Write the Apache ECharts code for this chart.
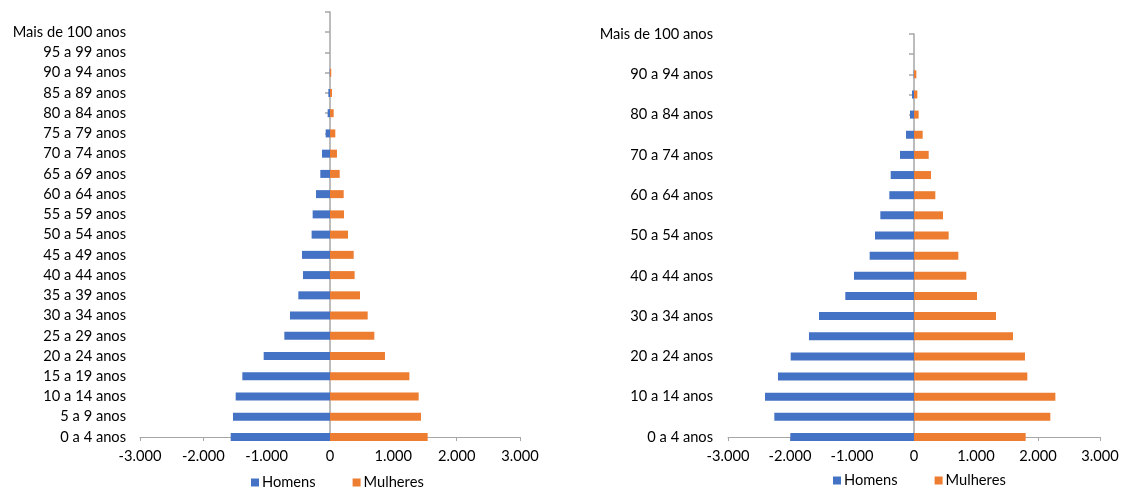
<!DOCTYPE html>
<html>
<head>
<meta charset="utf-8">
<script src="https://cdn.jsdelivr.net/npm/echarts@6/dist/echarts.min.js"></script>
<style>
  html, body { margin: 0; padding: 0; background: #fff; }
  #chart { width: 1121px; height: 491px; }
</style>
</head>
<body>
<div id="chart"></div>
<script>
// Faixas etárias (de baixo para cima)
const faixas = [
  '0 a 4 anos', '5 a 9 anos', '10 a 14 anos', '15 a 19 anos', '20 a 24 anos',
  '25 a 29 anos', '30 a 34 anos', '35 a 39 anos', '40 a 44 anos', '45 a 49 anos',
  '50 a 54 anos', '55 a 59 anos', '60 a 64 anos', '65 a 69 anos', '70 a 74 anos',
  '75 a 79 anos', '80 a 84 anos', '85 a 89 anos', '90 a 94 anos', '95 a 99 anos',
  'Mais de 100 anos'
];

// Pirâmide 1
const homens1 = [-1568, -1532, -1489, -1384, -1047, -721, -632, -500, -426, -442,
                 -290, -274, -221, -153, -126, -68, -37, -26, -4, 0, 0];
const mulheres1 = [1542, 1437, 1400, 1253, 868, 700, 595, 474, 389, 374,
                   284, 221, 216, 153, 110, 84, 58, 32, 20, 0, 0];

// Pirâmide 2
const homens2 = [-1995, -2253, -2403, -2194, -1989, -1694, -1532, -1108, -968, -715,
                 -629, -543, -398, -376, -226, -129, -65, -32, -5, 0, 0];
const mulheres2 = [1801, 2199, 2280, 1828, 1790, 1597, 1323, 1016, 844, 715,
                   559, 468, 344, 274, 237, 140, 75, 54, 38, 0, 0];

const valorTicks = [-3000, -2000, -1000, 0, 1000, 2000, 3000];

const corHomens = '#4472C4';
const corMulheres = '#ED7D31';
const corEixo = '#A6A6A6';
const fonte = 'Lato, "Open Sans", sans-serif';
const tamFonte = 14.67;

function fmtMilhar(v) {
  const s = Math.abs(v).toString().replace(/\B(?=(\d{3})+(?!\d))/g, '.');
  return (v < 0 ? '-' : '') + s;
}

function eixoValor(gridIndex) {
  return {
    type: 'value',
    gridIndex: gridIndex,
    min: valorTicks[0],
    max: valorTicks[valorTicks.length - 1],
    interval: 1000,
    splitLine: { show: false },
    axisLine: { show: true, onZero: false, lineStyle: { color: corEixo, width: 1 } },
    axisTick: { show: true, length: 4, lineStyle: { color: corEixo } },
    axisLabel: {
      color: '#000', fontFamily: fonte, fontSize: tamFonte, margin: 12,
      formatter: fmtMilhar
    }
  };
}

// Eixo só com os rótulos das faixas, junto à borda esquerda da grade
function eixoRotulos(gridIndex, labelInterval, margin, max) {
  const ax = {
    type: 'category',
    gridIndex: gridIndex,
    position: 'left',
    data: faixas,
    boundaryGap: false,
    axisLine: { show: false, onZero: false },
    axisTick: { show: false },
    splitLine: { show: false },
    axisLabel: {
      color: '#000', fontFamily: fonte, fontSize: tamFonte,
      interval: labelInterval, margin: margin
    }
  };
  if (max != null) ax.max = max;
  return ax;
}

// Eixo vertical cinza que cruza o zero, com as marcas
function eixoCentral(gridIndex, max) {
  const ax = {
    type: 'category',
    gridIndex: gridIndex,
    position: 'left',
    data: faixas,
    boundaryGap: false,
    axisLine: { show: true, onZero: true, lineStyle: { color: corEixo, width: 1.5 } },
    axisTick: { show: true, length: 5, interval: 0, lineStyle: { color: corEixo, width: 1.5 } },
    axisLabel: { show: false },
    splitLine: { show: false }
  };
  if (max != null) ax.max = max;
  return ax;
}

function serie(nome, dados, cor, gridIdx) {
  return {
    name: nome,
    type: 'bar',
    xAxisIndex: gridIdx,
    yAxisIndex: gridIdx * 2 + 1,
    stack: 'p' + gridIdx,
    data: dados,
    barWidth: 8,
    itemStyle: { color: cor },
    emphasis: { disabled: true }
  };
}

function legenda(left, top) {
  return {
    left: left, top: top,
    icon: 'rect', itemWidth: 8, itemHeight: 8, itemGap: 37,
    textStyle: { color: '#000', fontFamily: fonte, fontSize: tamFonte, padding: [0, 0, 0, -2] },
    data: ['Homens', 'Mulheres'],
    selectedMode: false
  };
}

const chart = echarts.init(document.getElementById('chart'), null, { renderer: 'canvas' });
chart.setOption({
  animation: false,
  backgroundColor: '#fff',
  grid: [
    { left: 140, top: 12, width: 380, height: 425, outerBoundsMode: 'none', containLabel: false },
    { left: 728, top: 34, width: 372, height: 403, outerBoundsMode: 'none', containLabel: false }
  ],
  legend: [legenda(246, 470), legenda(828, 468)],
  xAxis: [eixoValor(0), eixoValor(1)],
  yAxis: [
    eixoRotulos(0, 0, 14, 21), eixoCentral(0, 21),
    eixoRotulos(1, 1, 15, null), eixoCentral(1, null)
  ],
  series: [
    serie('Homens', homens1, corHomens, 0),
    serie('Mulheres', mulheres1, corMulheres, 0),
    serie('Homens', homens2, corHomens, 1),
    serie('Mulheres', mulheres2, corMulheres, 1)
  ]
});
</script>
</body>
</html>
